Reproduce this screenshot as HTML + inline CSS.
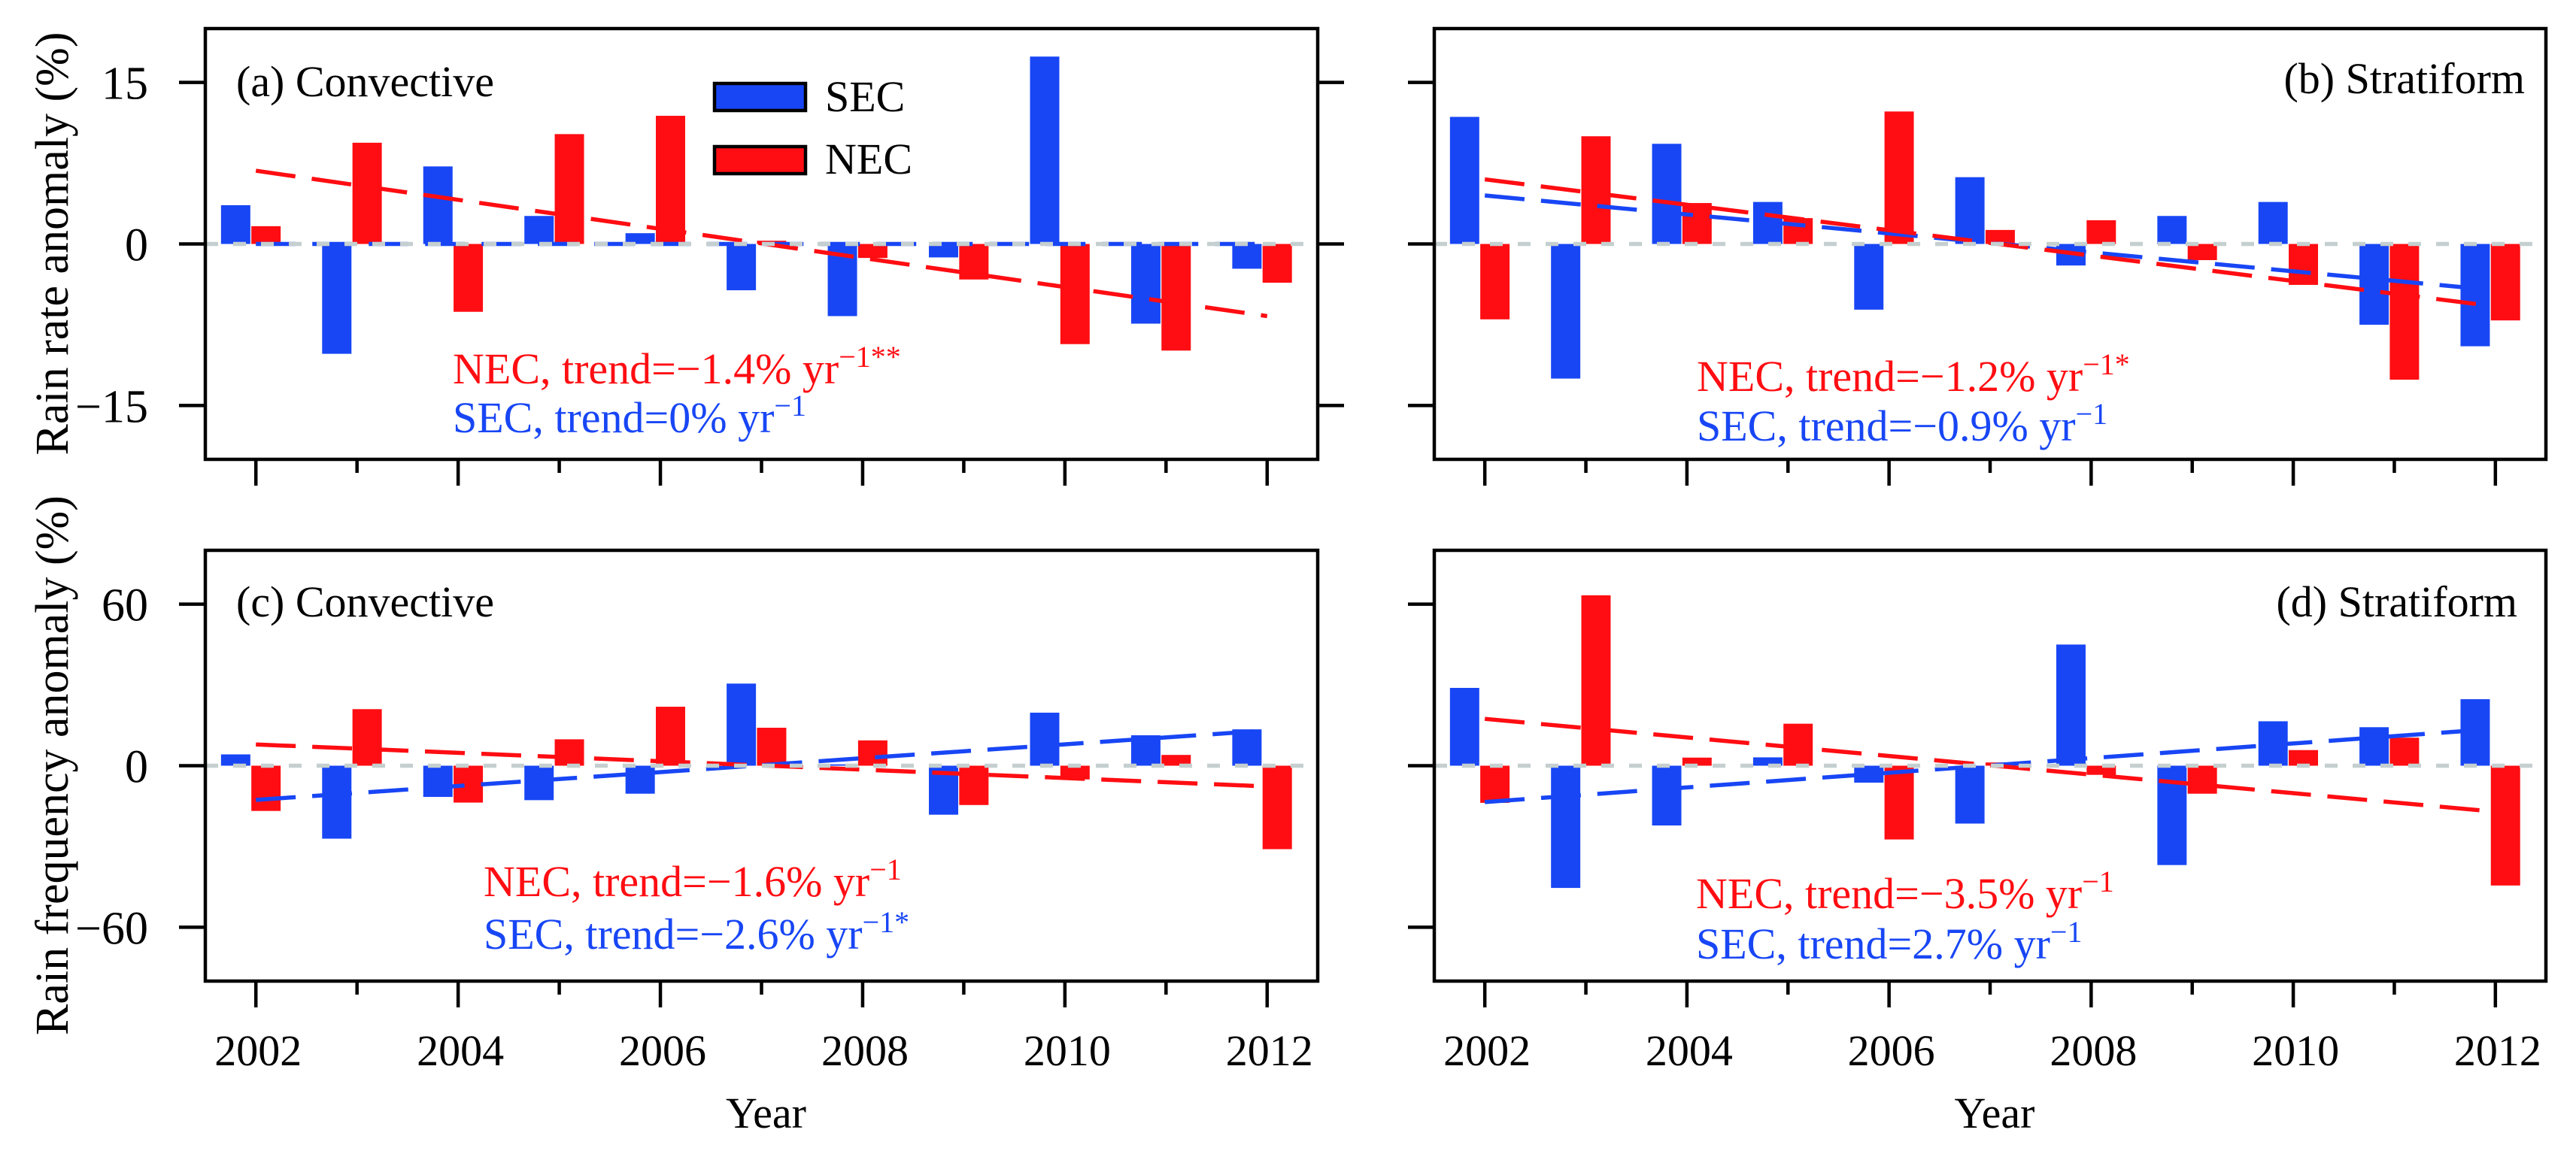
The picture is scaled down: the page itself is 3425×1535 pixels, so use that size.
<!DOCTYPE html>
<html><head><meta charset="utf-8"><style>
html,body{margin:0;padding:0;background:#fff;}
svg{display:block;font-family:"Liberation Serif",serif;}
</style></head><body>
<svg id="chart" xmlns="http://www.w3.org/2000/svg" width="3425" height="1535" viewBox="0 0 3425 1535">
<rect x="0" y="0" width="3425" height="1535" fill="#fff"/>
</svg>
<script>
const years = [2002,2003,2004,2005,2006,2007,2008,2009,2010,2011,2012];
const aSEC = [3.6,-10.2,7.2,2.6,1.0,-4.3,-6.7,-1.25,17.4,-7.4,-2.3];
const aNEC = [1.65,9.4,-6.3,10.2,11.9,0.3,-1.3,-3.3,-9.3,-9.9,-3.6];
const aTrendNEC = [6.8,-6.7];
const aTrendSEC = [0,0];
const bSEC = [11.8,-12.5,9.3,3.9,-6.1,6.2,-2.0,2.6,3.9,-7.5,-9.5];
const bNEC = [-7.0,10.0,3.8,2.4,12.3,1.3,2.2,-1.5,-3.8,-12.6,-7.1];
const bTrendNEC = [6.0,-5.8];
const bTrendSEC = [4.5,-4.3];
const cSEC = [4.2,-27.1,-11.6,-12.8,-10.4,30.5,0.5,-18.2,19.7,11.3,13.5];
const cNEC = [-16.8,21.0,-13.7,9.8,21.9,14.1,9.4,-14.6,-5.1,4.0,-31.0];
const cTrendNEC = [7.9,-7.7];
const cTrendSEC = [-12.7,13.1];
const dSEC = [28.9,-45.4,-22.2,3.1,-6.3,-21.5,45.0,-36.9,16.5,14.3,24.7];
const dNEC = [-13.8,63.3,3.0,15.6,-27.4,1.2,-3.4,-10.4,5.8,10.4,-44.5];
const dTrendNEC = [17.4,-17.1];
const dTrendSEC = [-13.5,13.7];
const rateTicks = [15,0,-15];
const rateTickLabels = ["15","0","\u221215"];
const freqTicks = [60,0,-60];
const freqTickLabels = ["60","0","\u221260"];
const xTickLabels = ["2002","2004","2006","2008","2010","2012"];

const NS="http://www.w3.org/2000/svg";
const svg=document.getElementById('chart');
const BLUE="#1846f5", RED="#ff0d12", GRAY="#c5cfcf";
function mk(tag,attrs,parent){const e=document.createElementNS(NS,tag);for(const k in attrs)e.setAttribute(k,attrs[k]);(parent||svg).appendChild(e);return e;}

function panel(cfg){
  const g=mk('g',{});
  
  
  const L=cfg.L,R=cfg.R,T=cfg.T,B=cfg.B;
  const x0=2001.5,x1=2012.5;
  const xs=v=>L+(v-x0)/(x1-x0)*(R-L);
  const ys=v=>T+(cfg.ymax-v)/(cfg.ymax-cfg.ymin)*(B-T);
  const bw=0.29;
  years.forEach((yr,i)=>{
    [[cfg.sec[i],-0.2,BLUE,'sec'],[cfg.nec[i],0.1,RED,'nec']].forEach(([v,off,col,nm])=>{
      const xa=xs(yr+off-bw/2), xb=xs(yr+off+bw/2);
      const r=mk('rect',{x:xa,y:Math.min(ys(v),ys(0)),width:xb-xa,height:Math.abs(ys(v)-ys(0)),fill:col},g);
      
      
    });
  });
  [[cfg.tSEC,BLUE,'sec'],[cfg.tNEC,RED,'nec']].forEach(([t,col,nm])=>{
    const l=mk('line',{x1:xs(years[0]),y1:ys(t[0]),x2:xs(years[years.length-1]),y2:ys(t[1]),stroke:col,'stroke-width':5.5,'stroke-dasharray':'53 22'},g);
    
    
  });
  const z=mk('line',{x1:L,y1:ys(0),x2:R,y2:ys(0),stroke:GRAY,'stroke-width':5.5,'stroke-dasharray':'17 20'},g);
  
  
  const f=mk('rect',{x:L,y:T,width:R-L,height:B-T,fill:'none',stroke:'#000','stroke-width':4.5},g);
  
  
  cfg.yt.forEach((v,i)=>{
    mk('line',{x1:L-35,y1:ys(v),x2:L,y2:ys(v),stroke:'#000','stroke-width':4.5},g);
    if(cfg.rightTicks) mk('line',{x1:R,y1:ys(v),x2:R+35,y2:ys(v),stroke:'#000','stroke-width':4.5},g);
    if(cfg.ytl){
      const t=mk('text',{x:L-76,y:ys(v)+22,'font-size':62,'text-anchor':'end',fill:'#000'},g);
      t.textContent=cfg.ytl[i];
      
      
    }
  });
  years.forEach((yr,i)=>{
    const len=(i%2==0)?35:18;
    mk('line',{x1:xs(yr),y1:B,x2:xs(yr),y2:B+len,stroke:'#000','stroke-width':4.5},g);
  });
  if(cfg.xlabels){
    xTickLabels.forEach(lab=>{
      const t=mk('text',{x:xs(+lab)+3,y:1417,'font-size':58,'text-anchor':'middle',fill:'#000'},g);
      t.textContent=lab;
      
      
    });
    const yl=mk('text',{x:(L+R)/2+6,y:1500,'font-size':58,'text-anchor':'middle',fill:'#000'},g);
    yl.textContent='Year';
    
    
  }
  const pt=mk('text',{x:cfg.titleX,y:cfg.titleY,'font-size':58,'text-anchor':cfg.titleAnchor,fill:'#000'},g);
  pt.textContent=cfg.title;
  
  
  [[cfg.necTxt,RED,cfg.tyN,'nec-trend-text'],[cfg.secTxt,BLUE,cfg.tyS,'sec-trend-text']].forEach(([s,col,y,nm])=>{
    const t=mk('text',{x:cfg.tx,y:y,'font-size':58,fill:col},g);
    
    
    const a=mk('tspan',{},t); a.textContent=s[0];
    const b=mk('tspan',{'font-size':40,dy:-22},t); b.textContent=s[1];
  });
}

panel({name:'panel-a-convective-rate',L:273,R:1752,T:38,B:611,ymin:-20,ymax:20,sec:aSEC,nec:aNEC,tSEC:aTrendSEC,tNEC:aTrendNEC,
  yt:rateTicks,ytl:rateTickLabels,rightTicks:true,xlabels:false,title:'(a) Convective',titleX:314,titleY:128,titleAnchor:'start',
  tx:602,tyN:510,tyS:575,necTxt:['NEC, trend=\u22121.4% yr','\u22121**'],secTxt:['SEC, trend=0% yr','\u22121']});
panel({name:'panel-b-stratiform-rate',L:1907,R:3385,T:38,B:611,ymin:-20,ymax:20,sec:bSEC,nec:bNEC,tSEC:bTrendSEC,tNEC:bTrendNEC,
  yt:rateTicks,ytl:null,rightTicks:false,xlabels:false,title:'(b) Stratiform',titleX:3357,titleY:124,titleAnchor:'end',
  tx:2256,tyN:520,tyS:586,necTxt:['NEC, trend=\u22121.2% yr','\u22121*'],secTxt:['SEC, trend=\u22120.9% yr','\u22121']});
panel({name:'panel-c-convective-frequency',L:273,R:1752,T:732,B:1305,ymin:-80,ymax:80,sec:cSEC,nec:cNEC,tSEC:cTrendSEC,tNEC:cTrendNEC,
  yt:freqTicks,ytl:freqTickLabels,rightTicks:false,xlabels:true,title:'(c) Convective',titleX:314,titleY:820,titleAnchor:'start',
  tx:643,tyN:1192,tyS:1262,necTxt:['NEC, trend=\u22121.6% yr','\u22121'],secTxt:['SEC, trend=\u22122.6% yr','\u22121*']});
panel({name:'panel-d-stratiform-frequency',L:1907,R:3385,T:732,B:1305,ymin:-80,ymax:80,sec:dSEC,nec:dNEC,tSEC:dTrendSEC,tNEC:dTrendNEC,
  yt:freqTicks,ytl:null,rightTicks:false,xlabels:true,title:'(d) Stratiform',titleX:3347,titleY:820,titleAnchor:'end',
  tx:2255,tyN:1208,tyS:1275,necTxt:['NEC, trend=\u22123.5% yr','\u22121'],secTxt:['SEC, trend=2.7% yr','\u22121']});

[['Rain rate anomaly (%)',324,'y-axis-title-rate'],['Rain frequency anomaly (%)',1018,'y-axis-title-frequency']].forEach(([s,cy,nm])=>{
  const t=mk('text',{x:0,y:0,'font-size':62,'text-anchor':'middle',fill:'#000',transform:'translate(90,'+cy+') rotate(-90)'});
  t.textContent=s;
  
  
});

const lg=mk('g',{});


[['SEC',BLUE,109,148],['NEC',RED,193,231]].forEach(([s,col,y,by])=>{
  const r=mk('rect',{x:950,y:y+2,width:121,height:36,fill:col,stroke:'#000','stroke-width':4.5},lg);
  
  
  const t=mk('text',{x:1097,y:by,'font-size':58,fill:'#000'},lg);
  t.textContent=s;
  
  
});
</script>
</body></html>
